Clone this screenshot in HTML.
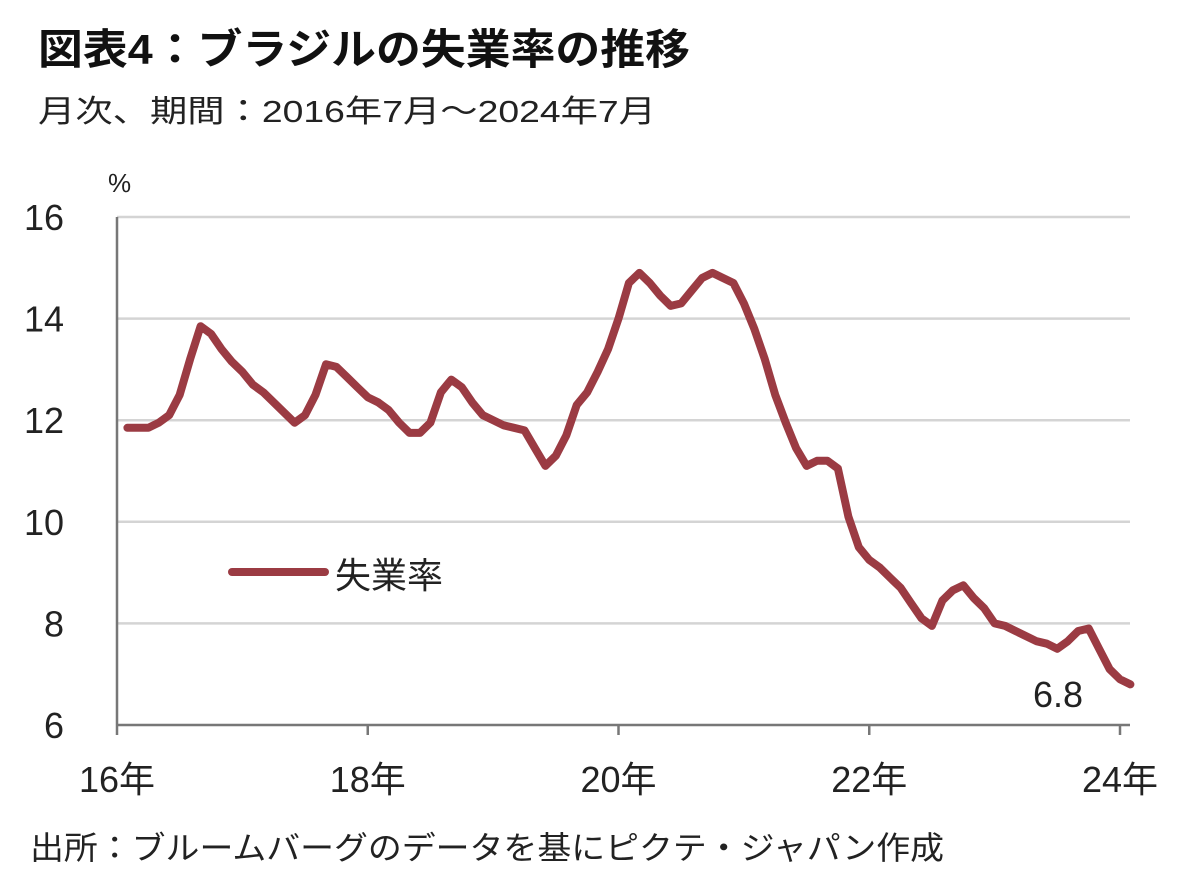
<!DOCTYPE html>
<html><head><meta charset="utf-8">
<style>
html,body{margin:0;padding:0;background:#fff;}
body{width:1200px;height:877px;overflow:hidden;font-family:"Liberation Sans","Noto Sans CJK JP",sans-serif;}
</style></head>
<body>
<svg id="chart" width="1200" height="877" viewBox="0 0 1200 877" xmlns="http://www.w3.org/2000/svg" font-family="Liberation Sans, Noto Sans CJK JP, sans-serif">
<text x="38" y="64" font-size="42" font-weight="bold" fill="#111" textLength="652" lengthAdjust="spacingAndGlyphs">図表4：ブラジルの失業率の推移</text>
<text x="38" y="122" font-size="31" fill="#222" textLength="618" lengthAdjust="spacingAndGlyphs">月次、期間：2016年7月～2024年7月</text>
<text x="108" y="192" font-size="26" fill="#222">%</text>
<g id="grid"></g>
<g id="axes"></g>
<g id="series"></g>
<line x1="232" y1="572" x2="325" y2="572" stroke="#9b3b43" stroke-width="8" stroke-linecap="round"/>
<text x="335" y="588" font-size="36" fill="#222">失業率</text>
<text x="1033" y="707" font-size="36" fill="#222">6.8</text>
<text x="30" y="859" font-size="32" fill="#222" textLength="914" lengthAdjust="spacingAndGlyphs">出所：ブルームバーグのデータを基にピクテ・ジャパン作成</text>
</svg>
<script>
const yTicks = [6, 8, 10, 12, 14, 16];
const xTickLabels = ["16年", "18年", "20年", "22年", "24年"];
const xTickIndex = [-1, 23, 47, 71, 95];
const rates = [11.85,11.85,11.85,11.95,12.1,12.5,13.2,13.85,13.7,13.4,13.15,12.95,12.7,12.55,12.35,12.15,11.95,12.1,12.5,13.1,13.05,12.85,12.65,12.45,12.35,12.2,11.95,11.75,11.75,11.95,12.55,12.8,12.65,12.35,12.1,12.0,11.9,11.85,11.8,11.45,11.1,11.3,11.7,12.3,12.55,12.95,13.4,14.0,14.7,14.9,14.7,14.45,14.25,14.3,14.55,14.8,14.9,14.8,14.7,14.3,13.8,13.2,12.5,11.95,11.45,11.1,11.2,11.2,11.05,10.1,9.5,9.25,9.1,8.9,8.7,8.4,8.1,7.95,8.45,8.65,8.75,8.5,8.3,8.0,7.95,7.85,7.75,7.65,7.6,7.5,7.65,7.85,7.9,7.5,7.1,6.9,6.8];

const NS = "http://www.w3.org/2000/svg";
const XSTEP = (1120 - 117) / 96, X0 = 117 + XSTEP;
const yScale = v => 725 - (v - 6) * 50.8;
const xScale = i => X0 + i * XSTEP;
const grid = document.getElementById("grid");
const axes = document.getElementById("axes");
const series = document.getElementById("series");

yTicks.forEach(v => {
  const y = yScale(v);
  if (v > 6) {
    const l = document.createElementNS(NS, "line");
    l.setAttribute("x1", 117); l.setAttribute("x2", 1130);
    l.setAttribute("y1", y); l.setAttribute("y2", y);
    l.setAttribute("stroke", "#d4d4d4"); l.setAttribute("stroke-width", "2.5");
    
    
    grid.appendChild(l);
  }
  const t = document.createElementNS(NS, "text");
  t.setAttribute("x", 64); t.setAttribute("y", y + 13);
  t.setAttribute("text-anchor", "end"); t.setAttribute("font-size", "36"); t.setAttribute("fill", "#222");
  t.textContent = v;
  
  
  axes.appendChild(t);
});

const ya = document.createElementNS(NS, "line");
ya.setAttribute("x1", 117); ya.setAttribute("x2", 117); ya.setAttribute("y1", 217); ya.setAttribute("y2", 725);
ya.setAttribute("stroke", "#777"); ya.setAttribute("stroke-width", "2.5");


axes.appendChild(ya);
const xa = document.createElementNS(NS, "line");
xa.setAttribute("x1", 117); xa.setAttribute("x2", 1130); xa.setAttribute("y1", 725); xa.setAttribute("y2", 725);
xa.setAttribute("stroke", "#777"); xa.setAttribute("stroke-width", "2.5");


axes.appendChild(xa);

xTickIndex.forEach((idx, k) => {
  const x = xScale(idx);
  const tk = document.createElementNS(NS, "line");
  tk.setAttribute("x1", x); tk.setAttribute("x2", x); tk.setAttribute("y1", 725); tk.setAttribute("y2", 735);
  tk.setAttribute("stroke", "#777"); tk.setAttribute("stroke-width", "2.5");
  
  
  axes.appendChild(tk);
  const t = document.createElementNS(NS, "text");
  t.setAttribute("x", x); t.setAttribute("y", 792);
  t.setAttribute("text-anchor", "middle"); t.setAttribute("font-size", "36"); t.setAttribute("fill", "#222");
  t.textContent = xTickLabels[k];
  
  
  axes.appendChild(t);
});

const p = document.createElementNS(NS, "polyline");
p.setAttribute("points", rates.map((v, i) => xScale(i).toFixed(1) + "," + yScale(v).toFixed(1)).join(" "));
p.setAttribute("fill", "none"); p.setAttribute("stroke", "#9b3b43"); p.setAttribute("stroke-width", "8");
p.setAttribute("stroke-linejoin", "round"); p.setAttribute("stroke-linecap", "round");


series.appendChild(p);
</script>
</body></html>
